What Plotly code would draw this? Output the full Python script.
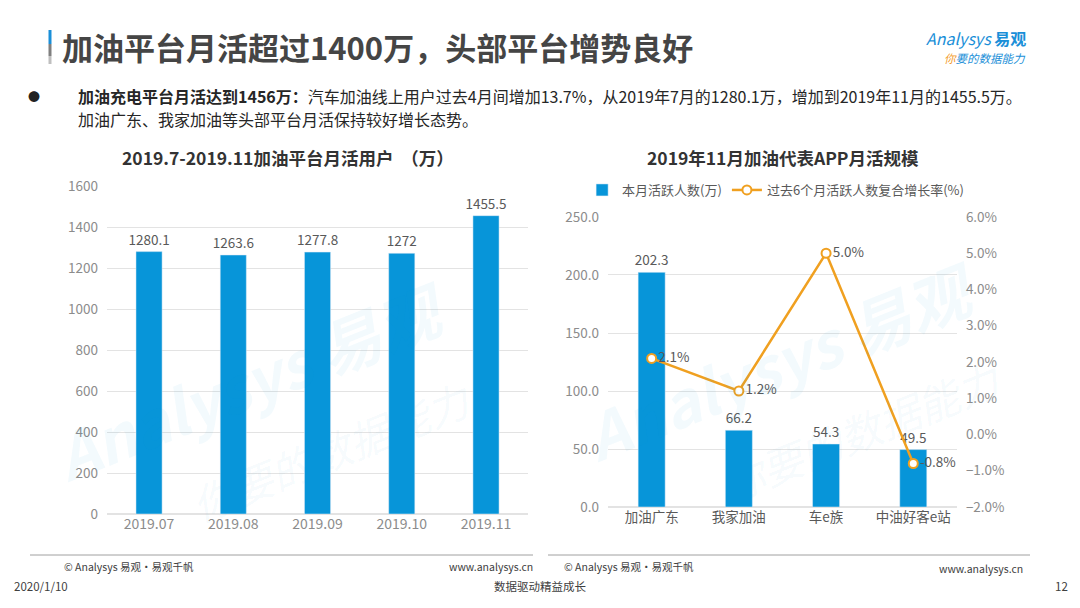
import plotly.graph_objects as go

# data
months = ['2019.07', '2019.08', '2019.09', '2019.10', '2019.11']
mau_total = [1280.1, 1263.6, 1277.8, 1272, 1455.5]

apps = ['加油广东', '我家加油', '车e族', '中油好客e站']
app_mau = [202.3, 66.2, 54.3, 49.5]
app_growth = [2.1, 1.2, 5.0, -0.8]

left_ticks = [0, 200, 400, 600, 800, 1000, 1200, 1400, 1600]

FONT = 'Noto Sans CJK SC'
BLUE = '#0795D9'
ORANGE = '#F0A020'
GRID = '#E3E3E3'
TICK = '#8C8C8C'
LABEL = '#595959'

fig = go.Figure()

# left chart
fig.add_trace(go.Bar(
    x=months, y=mau_total, marker_color=BLUE, width=0.31,
    text=[str(v) for v in mau_total], textposition='outside', constraintext='none',
    textfont=dict(size=13.5, color=LABEL, family=FONT), cliponaxis=False,
    showlegend=False, xaxis='x', yaxis='y'))

# right chart
fig.add_trace(go.Bar(
    x=apps, y=app_mau, marker_color=BLUE, width=0.31, name='本月活跃人数(万)',
    text=['%.1f' % v for v in app_mau], textposition='outside', constraintext='none',
    textfont=dict(size=13.5, color=LABEL, family=FONT), cliponaxis=False,
    xaxis='x2', yaxis='y2'))
fig.add_trace(go.Scatter(
    x=apps, y=app_growth, mode='lines+markers+text', name='过去6个月活跃人数复合增长率(%)',
    line=dict(color=ORANGE, width=2.5),
    marker=dict(size=9, color='white', line=dict(color=ORANGE, width=2)),
    text=['%.1f%%' % v for v in app_growth], textposition='middle right',
    textfont=dict(size=13.5, color=LABEL, family=FONT), cliponaxis=False,
    xaxis='x2', yaxis='y3'))

axis_font = dict(size=13.5, color=TICK, family=FONT)

fig.update_layout(
    width=1080, height=608,
    margin=dict(l=0, r=0, t=0, b=0, autoexpand=False),
    paper_bgcolor='white', plot_bgcolor='white',
    font=dict(family=FONT),
    xaxis=dict(domain=[0.099, 0.489], anchor='y', showgrid=False, showline=False,
               tickfont=dict(size=14, color=TICK, family=FONT), ticks=''),
    yaxis=dict(domain=[0.1546, 0.694], anchor='x', range=[0, 1600], tickvals=left_ticks,
               showgrid=True, gridcolor=GRID, zeroline=True, zerolinecolor=GRID,
               tickfont=axis_font, ticklabelstandoff=8),
    xaxis2=dict(domain=[0.563, 0.886], anchor='y2', showgrid=False, showline=False,
                tickfont=dict(size=13.5, color=LABEL, family=FONT), ticks=''),
    yaxis2=dict(domain=[0.1661, 0.6431], anchor='x2', range=[0, 250], dtick=50,
                tickformat='.1f', showgrid=True, gridcolor=GRID, zeroline=True,
                zerolinecolor=GRID, tickfont=axis_font, ticklabelstandoff=8),
    yaxis3=dict(overlaying='y2', side='right', anchor='x2', range=[-2, 6], dtick=1,
                tickformat='.1f', ticksuffix='%', showgrid=False, zeroline=False,
                tickfont=axis_font, ticklabelstandoff=8),
    legend=dict(orientation='h', x=0.539, y=1 - 190 / 608, yanchor='middle', xanchor='left',
                font=dict(size=13, color=LABEL, family=FONT), bgcolor='rgba(0,0,0,0)',
                itemwidth=30, traceorder='normal'),
)

ann = []
# header
ann.append(dict(text='<b>加油平台月活超过1400万，头部平台增势良好</b>', x=60, y=47,
                font=dict(size=31, color='#454545', family=FONT)))
ann.append(dict(text='●', x=26, y=96, font=dict(size=12, color='#222222', family=FONT)))
ann.append(dict(text='<b>加油充电平台月活达到1456万：</b>汽车加油线上用户过去4月间增加13.7%，'
                     '从2019年7月的1280.1万，增加到2019年11月的1455.5万。',
                x=76, y=96, font=dict(size=16, color='#262626', family=FONT)))
ann.append(dict(text='加油广东、我家加油等头部平台月活保持较好增长态势。',
                x=76, y=119, font=dict(size=16, color='#262626', family=FONT)))
# logo
ann.append(dict(text='<i>Analysys</i> <b>易观</b>', x=1028, y=38, xanchor='right',
                font=dict(size=16, color='#1A8FD8', family=FONT)))
ann.append(dict(text='<i><span style="color:#F39C2A">你</span>要的数据能力</i>', x=1028, y=58,
                xanchor='right', font=dict(size=11.5, color='#1A8FD8', family=FONT)))
# chart titles
ann.append(dict(text='<b>2019.7-2019.11加油平台月活用户  （万）</b>', x=288, y=157, xanchor='center',
                font=dict(size=17.5, color='#333333', family=FONT)))
ann.append(dict(text='<b>2019年11月加油代表APP月活规模</b>', x=783, y=157, xanchor='center',
                font=dict(size=17.5, color='#333333', family=FONT)))
# footers
ann.append(dict(text='© Analysys 易观·易观千帆', x=62, y=566, font=dict(size=10.5, color='#404040', family=FONT)))
ann.append(dict(text='www.analysys.cn', x=535, y=566, xanchor='right',
                font=dict(size=10.5, color='#404040', family=FONT)))
ann.append(dict(text='© Analysys 易观·易观千帆', x=562, y=566, font=dict(size=10.5, color='#404040', family=FONT)))
ann.append(dict(text='www.analysys.cn', x=1025, y=568, xanchor='right',
                font=dict(size=10.5, color='#404040', family=FONT)))
ann.append(dict(text='2020/1/10', x=12, y=586, font=dict(size=11.5, color='#404040', family=FONT)))
ann.append(dict(text='数据驱动精益成长', x=540, y=586, xanchor='center',
                font=dict(size=11.5, color='#404040', family=FONT)))
ann.append(dict(text='12', x=1070, y=586, xanchor='right', font=dict(size=11.5, color='#404040', family=FONT)))

# faint watermarks
for cx, cy in [(250, 380), (780, 360)]:
    ann.append(dict(text='<b><i>Analysys 易观</i></b>', x=cx, y=cy, xanchor='center', textangle=-22,
                    font=dict(size=62, color='rgba(20,150,220,0.05)', family=FONT)))
    ann.append(dict(text='<i>你要的数据能力</i>', x=cx + 80, y=cy + 70, xanchor='center', textangle=-22,
                    font=dict(size=42, color='rgba(20,150,220,0.05)', family=FONT)))

for a in ann:
    a.setdefault('xanchor', 'left')
    a.update(xref='paper', yref='paper', showarrow=False, yanchor='middle')
    a['x'] = a['x'] / 1080
    a['y'] = 1 - a['y'] / 608
fig.update_layout(annotations=ann)

shapes = [
    dict(type='line', x0=50 / 1080, x1=50 / 1080, y0=1 - 30 / 608, y1=1 - 44 / 608,
         line=dict(color='#1A8FD8', width=3)),
    dict(type='line', x0=50 / 1080, x1=50 / 1080, y0=1 - 44 / 608, y1=1 - 56 / 608,
         line=dict(color='#7F7F7F', width=3)),
    dict(type='line', x0=50 / 1080, x1=50 / 1080, y0=1 - 56 / 608, y1=1 - 64 / 608,
         line=dict(color='#BFBFBF', width=3)),
    dict(type='line', x0=30 / 1080, x1=533 / 1080, y0=1 - 555 / 608, y1=1 - 555 / 608,
         line=dict(color='#A0A0A0', width=1)),
    dict(type='line', x0=548 / 1080, x1=1030 / 1080, y0=1 - 555 / 608, y1=1 - 555 / 608,
         line=dict(color='#A0A0A0', width=1)),
]
for s in shapes:
    s.update(xref='paper', yref='paper')
fig.update_layout(shapes=shapes)

# page has a default body margin; drop it so the figure fills the window exactly
fig.write_html('out.html', config={'displayModeBar': False},
               post_script="document.body.style.margin='0';document.body.style.overflow='hidden';")
